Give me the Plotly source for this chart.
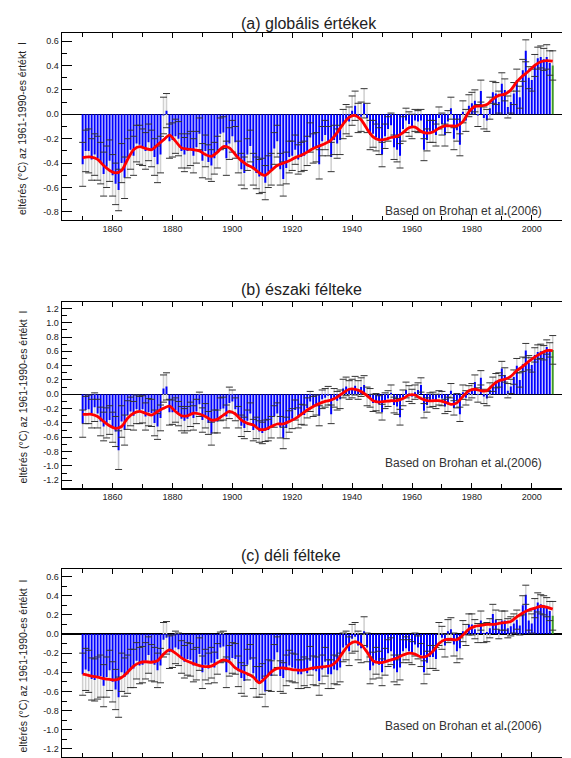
import plotly.graph_objects as go

# ---------------- data ----------------
years = list(range(1850, 2008))  # 1850-2006 blue, 2007 green (partial year)

glob_vals = [
    -0.41, -0.30, -0.30, -0.37, -0.33, -0.36, -0.40, -0.49, -0.43, -0.38,
    -0.50, -0.57, -0.62, -0.40, -0.52, -0.36, -0.29, -0.34, -0.24, -0.25,
    -0.27, -0.30, -0.23, -0.28, -0.35, -0.41, -0.33, -0.01, 0.03, -0.22,
    -0.21, -0.18, -0.20, -0.30, -0.33, -0.30, -0.28, -0.34, -0.27, -0.16,
    -0.38, -0.30, -0.39, -0.42, -0.36, -0.31, -0.16, -0.15, -0.36, -0.24,
    -0.18, -0.23, -0.35, -0.45, -0.48, -0.33, -0.26, -0.45, -0.48, -0.51,
    -0.50, -0.56, -0.47, -0.45, -0.28, -0.22, -0.45, -0.53, -0.44, -0.35,
    -0.34, -0.29, -0.37, -0.35, -0.34, -0.30, -0.19, -0.28, -0.27, -0.41,
    -0.22, -0.17, -0.22, -0.35, -0.21, -0.24, -0.21, -0.08, -0.04, -0.06,
    0.03, 0.07, -0.03, -0.02, 0.09, -0.03, -0.17, -0.16, -0.19, -0.22,
    -0.33, -0.18, -0.12, -0.09, -0.27, -0.29, -0.34, -0.12, -0.05, -0.08,
    -0.10, -0.05, -0.06, -0.05, -0.29, -0.21, -0.14, -0.14, -0.17, -0.03,
    -0.08, -0.17, -0.06, 0.05, -0.20, -0.13, -0.25, 0.02, -0.05, 0.07,
    0.09, 0.11, -0.01, 0.19, -0.03, -0.05, 0.05, 0.18, 0.17, 0.10,
    0.25, 0.20, 0.06, 0.10, 0.17, 0.28, 0.14, 0.36, 0.52, 0.30,
    0.28, 0.40, 0.46, 0.47, 0.45, 0.47, 0.42, 0.40,
]
glob_err = [
    0.18, 0.17, 0.18, 0.17, 0.17, 0.18, 0.17, 0.18, 0.17, 0.17,
    0.17, 0.17, 0.17, 0.16, 0.17, 0.16, 0.16, 0.16, 0.15, 0.16,
    0.15, 0.15, 0.15, 0.15, 0.15, 0.15, 0.15, 0.15, 0.14, 0.14,
    0.14, 0.14, 0.14, 0.14, 0.14, 0.14, 0.14, 0.14, 0.13, 0.13,
    0.14, 0.13, 0.14, 0.13, 0.13, 0.13, 0.13, 0.13, 0.14, 0.13,
    0.13, 0.13, 0.13, 0.13, 0.13, 0.13, 0.13, 0.13, 0.13, 0.14,
    0.14, 0.14, 0.13, 0.13, 0.13, 0.13, 0.13, 0.14, 0.13, 0.13,
    0.12, 0.12, 0.12, 0.12, 0.12, 0.12, 0.12, 0.12, 0.12, 0.12,
    0.12, 0.12, 0.12, 0.12, 0.12, 0.12, 0.12, 0.12, 0.12, 0.12,
    0.12, 0.12, 0.12, 0.12, 0.12, 0.12, 0.12, 0.11, 0.11, 0.11,
    0.10, 0.10, 0.10, 0.10, 0.10, 0.10, 0.10, 0.10, 0.10, 0.10,
    0.10, 0.09, 0.09, 0.09, 0.09, 0.09, 0.09, 0.09, 0.09, 0.09,
    0.09, 0.09, 0.09, 0.09, 0.09, 0.09, 0.09, 0.09, 0.09, 0.09,
    0.09, 0.09, 0.09, 0.09, 0.09, 0.09, 0.09, 0.09, 0.09, 0.09,
    0.09, 0.09, 0.09, 0.09, 0.09, 0.09, 0.09, 0.09, 0.09, 0.09,
    0.09, 0.09, 0.09, 0.09, 0.09, 0.10, 0.10, 0.12,
]

nh_vals = [
    -0.41, -0.22, -0.21, -0.27, -0.18, -0.27, -0.38, -0.45, -0.40, -0.36,
    -0.46, -0.52, -0.78, -0.38, -0.50, -0.29, -0.24, -0.30, -0.21, -0.22,
    -0.21, -0.31, -0.25, -0.26, -0.40, -0.45, -0.33, 0.08, 0.11, -0.25,
    -0.25, -0.22, -0.27, -0.34, -0.37, -0.34, -0.28, -0.33, -0.24, -0.14,
    -0.36, -0.30, -0.40, -0.55, -0.38, -0.38, -0.21, -0.20, -0.31, -0.12,
    -0.10, -0.21, -0.32, -0.44, -0.47, -0.37, -0.27, -0.50, -0.47, -0.52,
    -0.54, -0.51, -0.50, -0.46, -0.31, -0.27, -0.46, -0.61, -0.47, -0.38,
    -0.34, -0.22, -0.33, -0.28, -0.29, -0.19, -0.10, -0.17, -0.15, -0.30,
    -0.07, -0.05, -0.02, -0.28, -0.05, -0.09, -0.07, 0.08, 0.11, 0.06,
    0.08, 0.12, 0.06, 0.10, 0.13, -0.03, -0.05, -0.12, -0.11, -0.14,
    -0.25, -0.09, -0.06, 0.02, -0.15, -0.17, -0.32, -0.05, 0.06, 0.01,
    -0.03, 0.03, 0.06, 0.13, -0.23, -0.15, -0.08, -0.07, -0.10, -0.05,
    -0.06, -0.17, -0.14, 0.05, -0.19, -0.09, -0.28, 0.03, -0.05, 0.02,
    0.05, 0.17, -0.01, 0.23, -0.03, -0.06, 0.06, 0.14, 0.19, 0.20,
    0.36, 0.27, 0.05, 0.11, 0.24, 0.40, 0.20, 0.42, 0.61, 0.44,
    0.41, 0.55, 0.59, 0.60, 0.58, 0.66, 0.62, 0.62,
]
nh_err = [
    0.19, 0.19, 0.20, 0.20, 0.20, 0.20, 0.20, 0.20, 0.21, 0.20,
    0.21, 0.21, 0.27, 0.22, 0.21, 0.20, 0.20, 0.20, 0.20, 0.19,
    0.19, 0.19, 0.19, 0.19, 0.18, 0.18, 0.18, 0.19, 0.19, 0.18,
    0.17, 0.17, 0.17, 0.17, 0.17, 0.17, 0.17, 0.17, 0.17, 0.17,
    0.17, 0.17, 0.16, 0.16, 0.16, 0.16, 0.16, 0.16, 0.16, 0.22,
    0.16, 0.16, 0.15, 0.15, 0.15, 0.15, 0.15, 0.15, 0.15, 0.15,
    0.15, 0.15, 0.15, 0.15, 0.15, 0.15, 0.15, 0.15, 0.15, 0.15,
    0.14, 0.14, 0.14, 0.14, 0.14, 0.14, 0.14, 0.14, 0.14, 0.14,
    0.13, 0.13, 0.13, 0.13, 0.13, 0.13, 0.13, 0.13, 0.13, 0.13,
    0.13, 0.13, 0.13, 0.13, 0.13, 0.13, 0.13, 0.12, 0.12, 0.12,
    0.11, 0.11, 0.11, 0.11, 0.11, 0.11, 0.11, 0.11, 0.11, 0.11,
    0.10, 0.10, 0.10, 0.10, 0.10, 0.10, 0.10, 0.10, 0.10, 0.10,
    0.10, 0.10, 0.10, 0.10, 0.10, 0.10, 0.10, 0.10, 0.10, 0.10,
    0.10, 0.10, 0.10, 0.10, 0.10, 0.10, 0.10, 0.10, 0.10, 0.10,
    0.10, 0.10, 0.10, 0.10, 0.10, 0.10, 0.10, 0.10, 0.10, 0.10,
    0.10, 0.10, 0.10, 0.10, 0.10, 0.10, 0.10, 0.20,
]

sh_vals = [
    -0.42, -0.37, -0.39, -0.47, -0.48, -0.46, -0.44, -0.54, -0.45, -0.38,
    -0.50, -0.58, -0.66, -0.40, -0.45, -0.42, -0.36, -0.36, -0.28, -0.33,
    -0.32, -0.28, -0.22, -0.30, -0.32, -0.38, -0.33, -0.06, -0.04, -0.19,
    -0.18, -0.14, -0.16, -0.24, -0.29, -0.26, -0.27, -0.33, -0.31, -0.21,
    -0.40, -0.32, -0.36, -0.30, -0.35, -0.26, -0.14, -0.13, -0.40, -0.28,
    -0.25, -0.26, -0.39, -0.46, -0.49, -0.32, -0.27, -0.41, -0.50, -0.50,
    -0.47, -0.60, -0.43, -0.44, -0.27, -0.19, -0.44, -0.46, -0.38, -0.33,
    -0.35, -0.36, -0.42, -0.42, -0.39, -0.41, -0.28, -0.38, -0.39, -0.49,
    -0.37, -0.29, -0.42, -0.42, -0.37, -0.38, -0.35, -0.14, -0.12, -0.18,
    -0.05, -0.03, -0.12, -0.15, 0.03, -0.14, -0.38, -0.33, -0.28, -0.32,
    -0.40, -0.29, -0.20, -0.18, -0.36, -0.40, -0.35, -0.18, -0.15, -0.18,
    -0.20, -0.11, -0.14, -0.22, -0.40, -0.30, -0.24, -0.24, -0.26, 0.00,
    -0.04, -0.12, 0.03, 0.05, -0.11, -0.18, -0.15, 0.03, -0.01, 0.10,
    0.10, 0.05, 0.01, 0.14, 0.01, 0.02, 0.06, 0.21, 0.15, 0.05,
    0.14, 0.14, 0.06, 0.08, 0.11, 0.15, 0.09, 0.30, 0.41, 0.14,
    0.11, 0.27, 0.33, 0.31, 0.30, 0.28, 0.24, 0.19,
]
sh_err = [
    0.22, 0.22, 0.22, 0.22, 0.22, 0.22, 0.22, 0.22, 0.21, 0.21,
    0.21, 0.21, 0.21, 0.20, 0.20, 0.20, 0.20, 0.20, 0.19, 0.19,
    0.19, 0.19, 0.19, 0.19, 0.18, 0.18, 0.18, 0.18, 0.17, 0.17,
    0.17, 0.17, 0.17, 0.17, 0.17, 0.17, 0.17, 0.17, 0.17, 0.17,
    0.17, 0.16, 0.16, 0.16, 0.16, 0.16, 0.16, 0.16, 0.16, 0.16,
    0.16, 0.16, 0.16, 0.16, 0.16, 0.16, 0.16, 0.16, 0.16, 0.16,
    0.16, 0.16, 0.16, 0.16, 0.16, 0.16, 0.16, 0.16, 0.16, 0.16,
    0.15, 0.15, 0.15, 0.15, 0.15, 0.15, 0.15, 0.15, 0.15, 0.15,
    0.15, 0.15, 0.15, 0.15, 0.15, 0.15, 0.15, 0.15, 0.15, 0.15,
    0.15, 0.15, 0.15, 0.15, 0.15, 0.15, 0.14, 0.14, 0.14, 0.14,
    0.14, 0.14, 0.14, 0.14, 0.14, 0.13, 0.13, 0.12, 0.12, 0.12,
    0.12, 0.12, 0.12, 0.12, 0.12, 0.12, 0.12, 0.12, 0.12, 0.12,
    0.12, 0.12, 0.12, 0.12, 0.12, 0.12, 0.11, 0.11, 0.11, 0.11,
    0.11, 0.10, 0.10, 0.10, 0.10, 0.10, 0.10, 0.10, 0.10, 0.10,
    0.10, 0.10, 0.10, 0.10, 0.10, 0.10, 0.10, 0.10, 0.10, 0.10,
    0.10, 0.10, 0.10, 0.10, 0.10, 0.10, 0.10, 0.15,
]

# smoothed (red) curves, read at 1850 and every odd year
smooth_years = [1850] + list(range(1851, 2008, 2))
glob_smooth = [
    -0.355, -0.35, -0.35, -0.37, -0.42, -0.46,
    -0.48, -0.46, -0.37, -0.29, -0.265,
    -0.28, -0.29, -0.25, -0.21, -0.17,
    -0.22, -0.275, -0.285, -0.29, -0.30,
    -0.33, -0.345, -0.31, -0.265, -0.275,
    -0.33, -0.38, -0.415, -0.44, -0.48,
    -0.50, -0.46, -0.42, -0.40, -0.38,
    -0.355, -0.335, -0.31, -0.28, -0.26,
    -0.24, -0.21, -0.15, -0.08, -0.025,
    -0.01, -0.045, -0.12, -0.185, -0.21,
    -0.205, -0.19, -0.18, -0.15, -0.11,
    -0.105, -0.14, -0.155, -0.145, -0.115,
    -0.095, -0.095, -0.095, -0.06, 0.02,
    0.065, 0.068, 0.08, 0.125, 0.155,
    0.165, 0.20, 0.265, 0.315, 0.355,
    0.40, 0.43, 0.44, 0.435,
]
nh_smooth = [
    -0.28, -0.28, -0.28, -0.31, -0.38, -0.44,
    -0.475, -0.45, -0.335, -0.265, -0.24,
    -0.265, -0.29, -0.24, -0.195, -0.165,
    -0.24, -0.30, -0.30, -0.265, -0.275,
    -0.31, -0.36, -0.35, -0.29, -0.24,
    -0.275, -0.36, -0.405, -0.43, -0.49,
    -0.49, -0.45, -0.415, -0.415, -0.38,
    -0.34, -0.28, -0.22, -0.17, -0.13,
    -0.10, -0.08, -0.04, 0.02, 0.07,
    0.07, 0.04, -0.02, -0.09, -0.11,
    -0.10, -0.09, -0.09, -0.06, -0.01,
    -0.01, -0.06, -0.09, -0.09, -0.09,
    -0.11, -0.14, -0.12, -0.03, 0.05,
    0.07, 0.05, 0.05, 0.13, 0.19,
    0.21, 0.25, 0.33, 0.39, 0.46,
    0.52, 0.57, 0.61, 0.61,
]
sh_smooth = [
    -0.42, -0.425, -0.44, -0.45, -0.465, -0.475,
    -0.48, -0.455, -0.40, -0.335, -0.30,
    -0.29, -0.295, -0.28, -0.21, -0.165,
    -0.20, -0.25, -0.285, -0.31, -0.33,
    -0.34, -0.335, -0.30, -0.27, -0.29,
    -0.355, -0.39, -0.415, -0.45, -0.51,
    -0.46, -0.395, -0.36, -0.355, -0.365,
    -0.375, -0.38, -0.37, -0.355, -0.345,
    -0.34, -0.33, -0.28, -0.19, -0.11,
    -0.08, -0.11, -0.19, -0.28, -0.30,
    -0.29, -0.27, -0.25, -0.22, -0.20,
    -0.21, -0.24, -0.23, -0.18, -0.10,
    -0.06, -0.055, -0.06, -0.01, 0.05,
    0.08, 0.09, 0.10, 0.10, 0.11,
    0.12, 0.13, 0.18, 0.22, 0.25,
    0.27, 0.29, 0.28, 0.26,
]

ticks_a = [-0.8, -0.6, -0.4, -0.2, 0.0, 0.2, 0.4, 0.6]
ticks_b = [-1.2, -1.0, -0.8, -0.6, -0.4, -0.2, 0.0, 0.2, 0.4, 0.6, 0.8, 1.0, 1.2]
ticks_c = [-1.2, -1.0, -0.8, -0.6, -0.4, -0.2, 0.0, 0.2, 0.4, 0.6]
minor_a = [-0.7, -0.5, -0.3, -0.1, 0.1, 0.3, 0.5]
minor_b = [-1.1, -0.9, -0.7, -0.5, -0.3, -0.1, 0.1, 0.3, 0.5, 0.7, 0.9, 1.1]
minor_c = [-1.1, -0.9, -0.7, -0.5, -0.3, -0.1, 0.1, 0.3, 0.5]

titles = ["(a) globális értékek", "(b) északi félteke", "(c) déli félteke"]
ylabel = "eltérés (°C) az 1961-1990-es értékt  I"
credit = "Based on Brohan et al<b>.</b>(2006)"

# ---------------- figure ----------------
# positions are given in window pixels (page margin removed below)
W, H = 571, 758
X_RANGE = [1843, 2010]
RIGHT_MAJOR_X = 2011.5   # just outside the right edge of the x range
RIGHT_MINOR_X = 2012.2


def xp(px):
    return px / W


def yp(py):
    return 1 - py / H


FONT = "Liberation Sans, Arial, Helvetica, sans-serif"
XDOM = [xp(61.7), xp(561.7)]

panels = [
    dict(vals=glob_vals, err=glob_err, smooth=glob_smooth, ticks=ticks_a,
         minor=minor_a, yr=[-0.866, 0.666], top=33.0, bot=220.0, title_y=23,
         credit_y=210.5, ylab_y=129, xlabels=True),
    dict(vals=nh_vals, err=nh_err, smooth=nh_smooth, ticks=ticks_b,
         minor=minor_b, yr=[-1.313, 1.293], top=301.7, bot=488.3, title_y=289,
         credit_y=462.5, ylab_y=397.5, xlabels=True),
    dict(vals=sh_vals, err=sh_err, smooth=sh_smooth, ticks=ticks_c,
         minor=minor_c, yr=[-1.282, 0.676], top=569.3, bot=756.7, title_y=555,
         credit_y=726, ylab_y=666.5, xlabels=False),
]

fig = go.Figure()
annotations = []
layout = dict(
    width=W, height=H, margin=dict(l=0, r=0, t=0, b=0, autoexpand=False),
    paper_bgcolor="white", plot_bgcolor="white",
    barmode="overlay", showlegend=False, font=dict(family=FONT, color="#222"),
)

for i, p in enumerate(panels):
    n = i + 1
    xa = "x" if n == 1 else f"x{n}"
    ya = "y" if n == 1 else f"y{n}"
    xkey = "xaxis" if n == 1 else f"xaxis{n}"
    ykey = "yaxis" if n == 1 else f"yaxis{n}"
    vals, err = p["vals"], p["err"]
    lo = [v - e for v, e in zip(vals, err)]
    hi = [v + e for v, e in zip(vals, err)]
    span = [2 * e for e in err]

    # grey uncertainty stems (behind the bars)
    fig.add_trace(go.Bar(x=years, y=span, base=lo, width=0.52,
                         marker=dict(color="#d0d0d0", line=dict(width=0)),
                         xaxis=xa, yaxis=ya, hoverinfo="skip"))
    # blue annual bars
    fig.add_trace(go.Bar(x=years[:-1], y=vals[:-1], width=0.66,
                         marker=dict(color="#0000ff", line=dict(width=0)),
                         xaxis=xa, yaxis=ya))
    # green partial-year bar
    fig.add_trace(go.Bar(x=years[-1:], y=vals[-1:], width=0.66,
                         marker=dict(color="#3f9a26", line=dict(width=0)),
                         xaxis=xa, yaxis=ya))
    # black caps
    fig.add_trace(go.Scatter(x=years + years, y=hi + lo, mode="markers",
                             marker=dict(symbol="line-ew", size=5,
                                         line=dict(color="#333333", width=1)),
                             xaxis=xa, yaxis=ya, hoverinfo="skip"))
    # red smoothed curve
    fig.add_trace(go.Scatter(x=smooth_years, y=p["smooth"], mode="lines",
                             line=dict(color="#ff0000", width=2.8, shape="spline",
                                       smoothing=0.8),
                             xaxis=xa, yaxis=ya))
    # right-hand tick marks (outside the plot edge)
    fig.add_trace(go.Scatter(x=[RIGHT_MAJOR_X] * len(p["ticks"]), y=p["ticks"],
                             mode="markers", cliponaxis=False,
                             marker=dict(symbol="line-ew", size=9,
                                         line=dict(color="black", width=1)),
                             xaxis=xa, yaxis=ya, hoverinfo="skip"))
    fig.add_trace(go.Scatter(x=[RIGHT_MINOR_X] * len(p["minor"]), y=p["minor"],
                             mode="markers", cliponaxis=False,
                             marker=dict(symbol="line-ew", size=5,
                                         line=dict(color="black", width=1)),
                             xaxis=xa, yaxis=ya, hoverinfo="skip"))

    ydom = [yp(p["bot"]), yp(p["top"])]
    ticktext = [f"{t:.1f}" for t in p["ticks"]]
    layout[xkey] = dict(
        domain=XDOM, range=X_RANGE, anchor=ya,
        tickmode="linear", tick0=1860, dtick=20,
        ticks="inside", ticklen=5, tickwidth=1, tickcolor="black",
        minor=dict(tick0=1850, dtick=10, ticks="inside", ticklen=4,
                   tickwidth=1, tickcolor="black", showgrid=False),
        showline=True, mirror="ticks", linecolor="black", linewidth=1.2,
        showgrid=False, zeroline=False, showticklabels=p["xlabels"],
        tickfont=dict(family=FONT, size=9, color="#222"),
    )
    layout[ykey] = dict(
        domain=ydom, range=p["yr"], anchor=xa,
        tickmode="array", tickvals=p["ticks"], ticktext=ticktext,
        ticks="inside", ticklen=10, tickwidth=1, tickcolor="black",
        minor=dict(tickmode="linear", tick0=0, dtick=0.1, ticks="inside",
                   ticklen=5, tickwidth=1, tickcolor="black", showgrid=False),
        showline=True, mirror=False, linecolor="black", linewidth=1.2,
        showgrid=False, zeroline=True, zerolinecolor="black", zerolinewidth=1.4,
        tickfont=dict(family=FONT, size=9, color="#222"),
    )

    annotations.append(dict(text=titles[i], x=xp(239), y=yp(p["title_y"]),
                            xref="paper", yref="paper", xanchor="left",
                            yanchor="middle", showarrow=False,
                            font=dict(family=FONT, size=16, color="#222")))
    annotations.append(dict(text=credit, x=xp(383), y=yp(p["credit_y"]),
                            xref="paper", yref="paper", xanchor="left",
                            yanchor="middle", showarrow=False,
                            font=dict(family=FONT, size=12, color="#333")))
    annotations.append(dict(text=ylabel, x=xp(22), y=yp(p["ylab_y"]),
                            xref="paper", yref="paper", xanchor="center",
                            yanchor="middle", textangle=-90, showarrow=False,
                            font=dict(family=FONT, size=10.5, color="#222")))

layout["annotations"] = annotations
fig.update_layout(**layout)
fig.write_html(
    "out.html",
    config={"displayModeBar": False, "staticPlot": True},
    post_script=("document.body.style.margin='0px';"
                 "document.documentElement.style.overflow='hidden';"
                 "document.body.style.overflow='hidden';"),
)
